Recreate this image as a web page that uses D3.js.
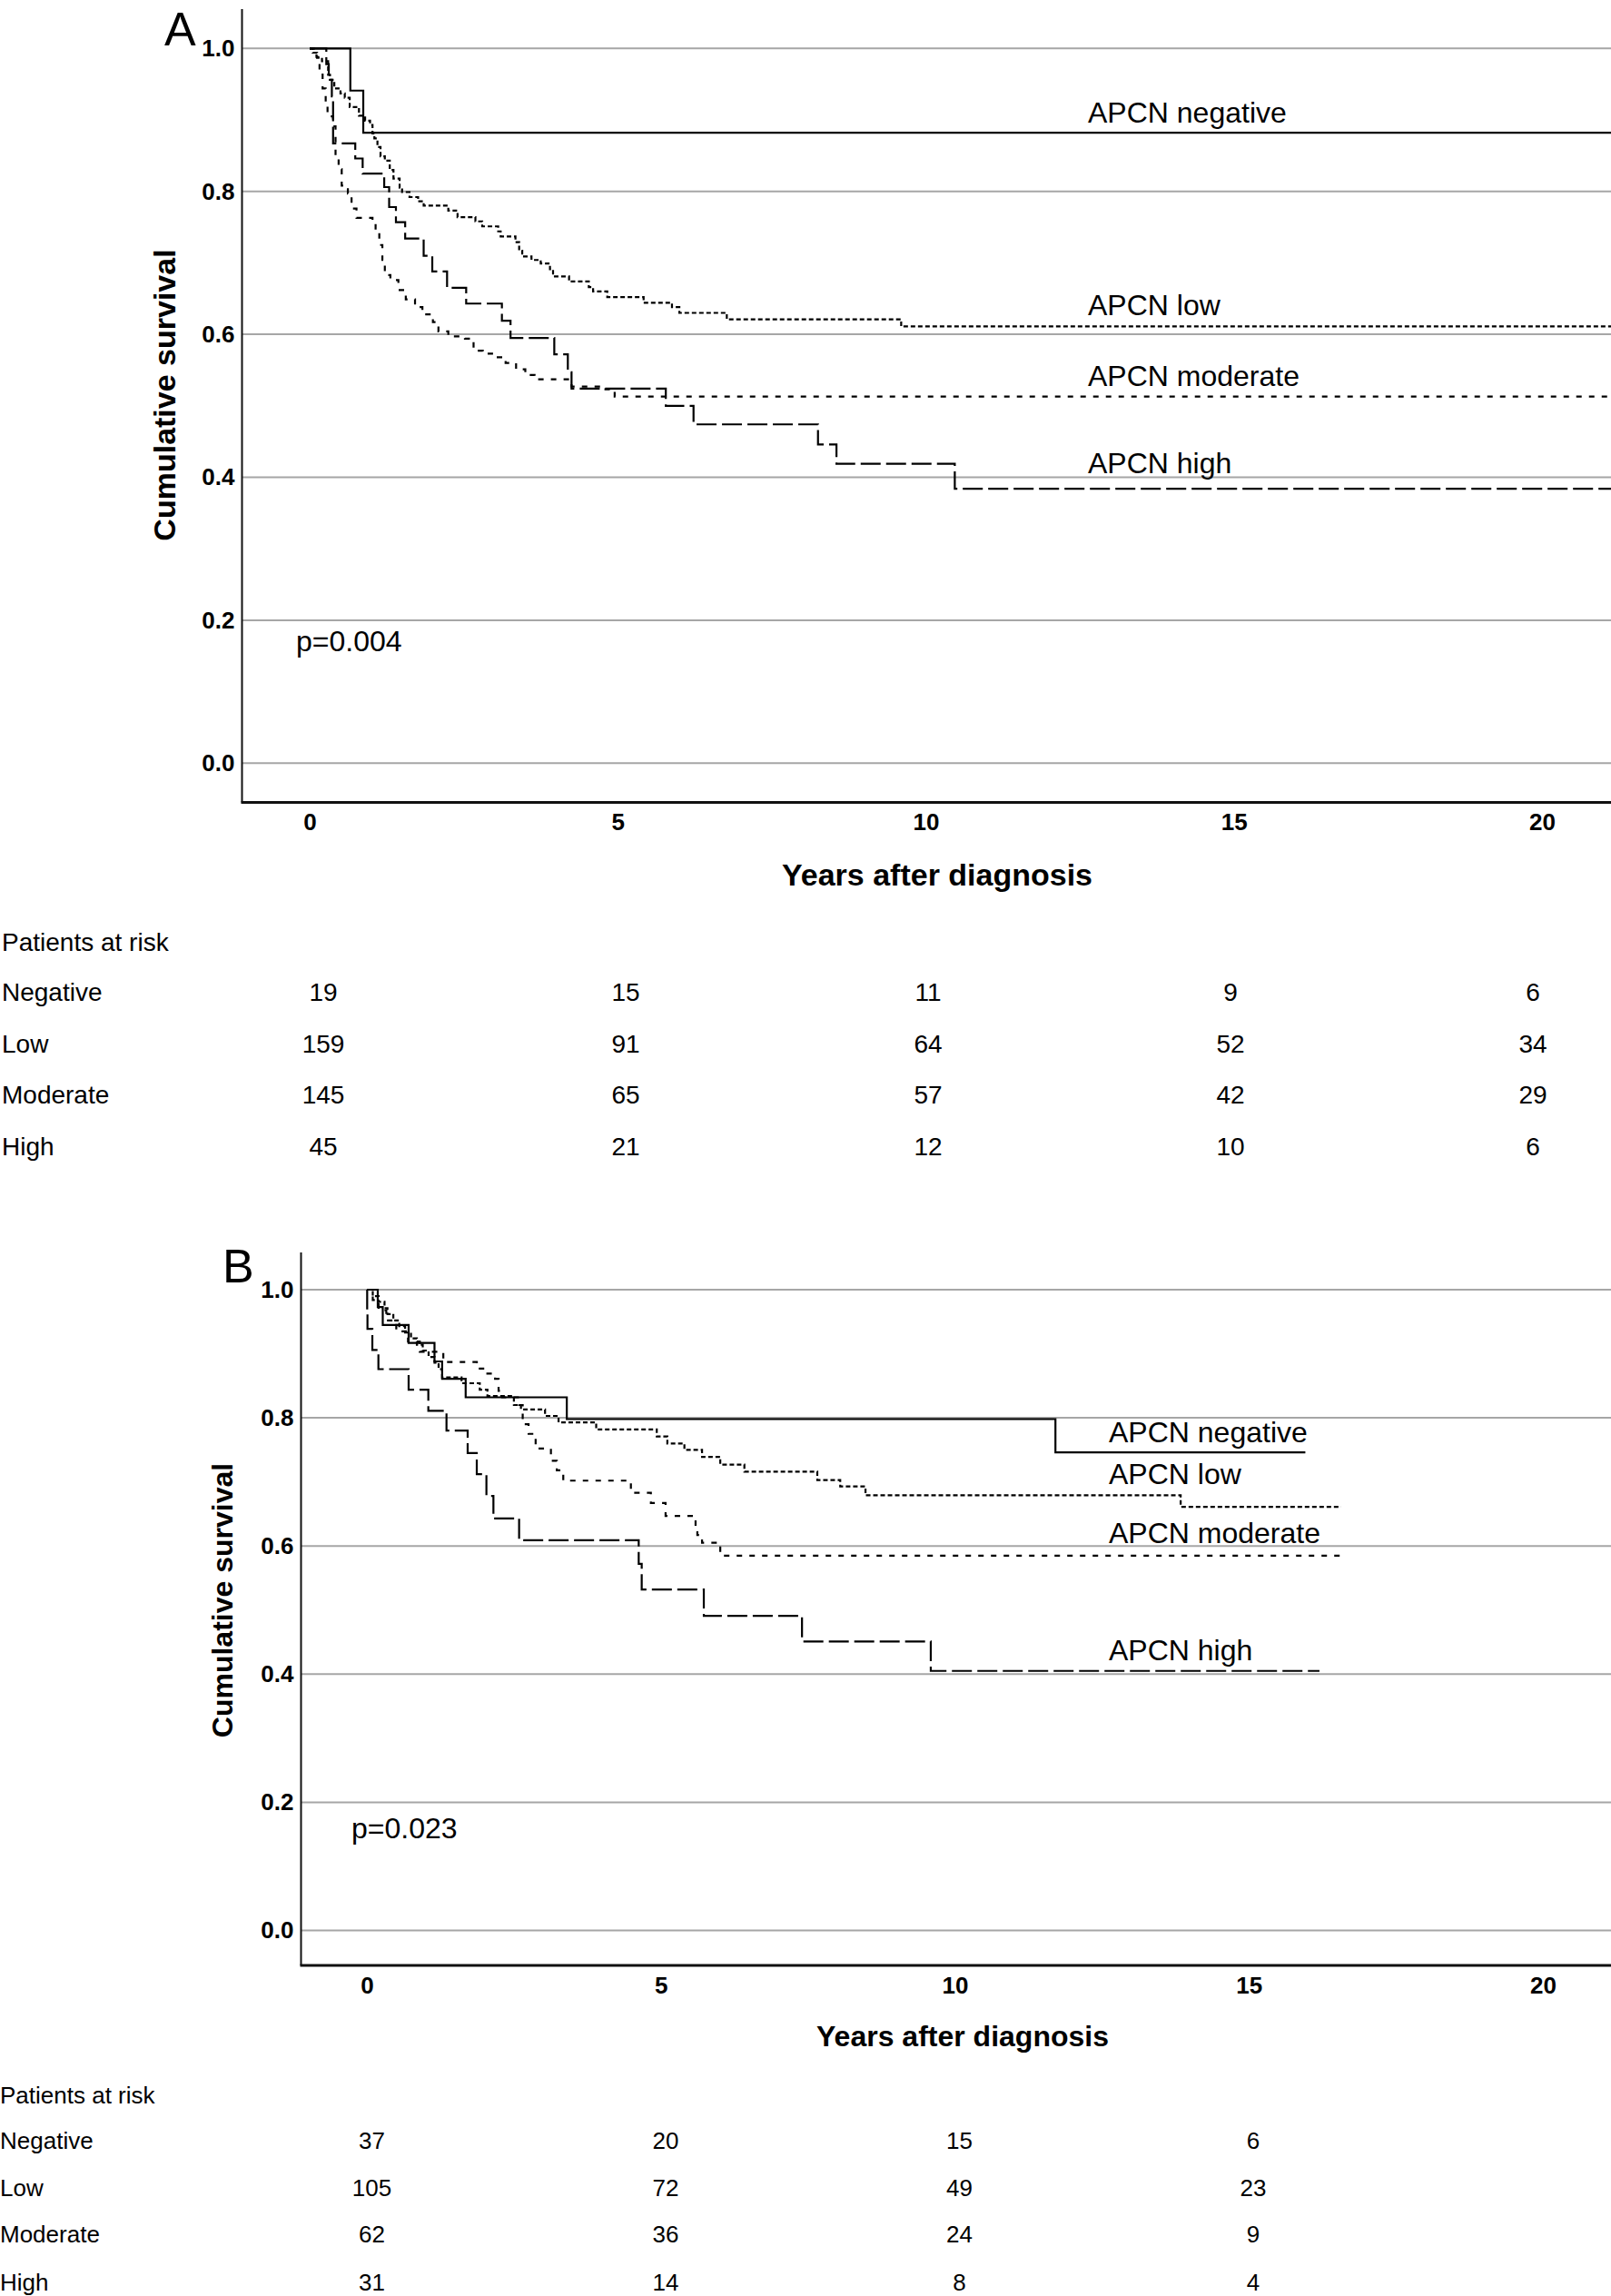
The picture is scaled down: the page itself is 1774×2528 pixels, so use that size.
<!DOCTYPE html>
<html><head><meta charset="utf-8">
<script src="https://cdn.jsdelivr.net/npm/d3@7"></script>
<style>
body{margin:0;background:#fff}
svg{display:block}
text{font-family:"Liberation Sans",Arial,Helvetica,sans-serif;fill:#000}
</style>
</head><body>
<svg id="chart" width="1774" height="2528"></svg>
<script>
// ---------- shared labels / ticks ----------
const yearTicks = [0, 5, 10, 15, 20];
const survTicks = [0, 0.2, 0.4, 0.6, 0.8, 1.0];
const seriesNames = ["APCN negative", "APCN low", "APCN moderate", "APCN high"];
const riskRowLabels = ["Negative", "Low", "Moderate", "High"];
const riskTitle = "Patients at risk";
const xTitle = "Years after diagnosis";
const yTitle = "Cumulative survival";

// ---------- Panel A (Kaplan-Meier steps: [years, survival]) ----------
const aNegative = [[0,1],[0.66,0.941],[0.87,0.882]];
const aLow = [[0,1],[0.05,0.994],[0.12,0.987],[0.2,0.982],[0.3,0.963],[0.33,0.956],[0.4,0.944],[0.5,0.937],[0.57,0.931],[0.65,0.918],[0.8,0.906],[0.9,0.899],[0.98,0.893],[1.02,0.881],[1.05,0.874],[1.1,0.862],[1.15,0.849],[1.22,0.843],[1.3,0.830],[1.36,0.818],[1.46,0.805],[1.5,0.799],[1.62,0.792],[1.76,0.786],[1.85,0.780],[2.25,0.773],[2.4,0.764],[2.69,0.758],[2.8,0.751],[3.06,0.744],[3.1,0.737],[3.34,0.729],[3.4,0.717],[3.45,0.709],[3.6,0.704],[3.75,0.699],[3.9,0.691],[3.95,0.681],[4.21,0.674],[4.53,0.666],[4.6,0.660],[4.83,0.652],[5.42,0.644],[5.88,0.638],[6.0,0.630],[6.77,0.621],[9.6,0.611]];
const aModerate = [[0,1],[0.11,0.988],[0.16,0.967],[0.21,0.944],[0.26,0.920],[0.29,0.905],[0.38,0.891],[0.42,0.848],[0.47,0.831],[0.52,0.808],[0.62,0.797],[0.68,0.776],[0.76,0.763],[1.02,0.755],[1.07,0.742],[1.13,0.725],[1.18,0.704],[1.22,0.683],[1.31,0.676],[1.44,0.662],[1.56,0.649],[1.71,0.638],[1.83,0.628],[2.0,0.617],[2.09,0.604],[2.25,0.597],[2.52,0.594],[2.66,0.577],[2.81,0.573],[2.96,0.568],[3.18,0.560],[3.35,0.551],[3.5,0.543],[3.65,0.537],[4.25,0.527],[4.75,0.523],[4.95,0.513]];
const aHigh = [[0,1],[0.27,0.978],[0.31,0.956],[0.36,0.933],[0.38,0.867],[0.74,0.846],[0.86,0.825],[1.21,0.806],[1.29,0.778],[1.40,0.757],[1.55,0.734],[1.85,0.710],[1.99,0.688],[2.23,0.665],[2.54,0.643],[3.12,0.619],[3.26,0.595],[3.97,0.572],[4.19,0.547],[4.25,0.524],[5.78,0.500],[6.23,0.474],[8.25,0.446],[8.55,0.419],[10.47,0.384]];
const aFollowUp = [22, 22, 22, 22];
const aRiskNegative = [19, 15, 11, 9, 6];
const aRiskLow = [159, 91, 64, 52, 34];
const aRiskModerate = [145, 65, 57, 42, 29];
const aRiskHigh = [45, 21, 12, 10, 6];
const aRiskYears = [0, 5, 10, 15, 20];
const aPValue = "p=0.004";

// ---------- Panel B ----------
const bNegative = [[0,1],[0.185,0.973],[0.27,0.945],[0.71,0.917],[1.15,0.888],[1.28,0.861],[1.68,0.832],[3.40,0.798],[11.71,0.746]];
const bLow = [[0,1],[0.1,0.99],[0.2,0.981],[0.3,0.971],[0.35,0.962],[0.45,0.952],[0.55,0.943],[0.65,0.933],[0.75,0.924],[0.85,0.914],[0.95,0.905],[1.05,0.895],[1.15,0.886],[1.22,0.876],[1.28,0.863],[1.61,0.854],[1.92,0.844],[2.05,0.834],[2.5,0.820],[2.62,0.813],[3.03,0.803],[3.26,0.793],[3.9,0.782],[4.93,0.771],[5.11,0.760],[5.4,0.750],[5.7,0.739],[6.01,0.727],[6.42,0.716],[7.66,0.703],[8.05,0.693],[8.48,0.679],[13.84,0.661]];
const bModerate = [[0,1],[0.1,0.984],[0.2,0.968],[0.33,0.952],[0.5,0.935],[0.7,0.919],[0.9,0.903],[1.3,0.887],[1.87,0.877],[2.0,0.869],[2.18,0.861],[2.24,0.842],[2.3,0.832],[2.59,0.82],[2.65,0.79],[2.75,0.775],[2.87,0.752],[3.13,0.733],[3.23,0.718],[3.34,0.702],[4.49,0.683],[4.83,0.667],[5.08,0.647],[5.59,0.630],[5.62,0.617],[5.70,0.605],[6.01,0.585]];
const bHigh = [[0,1],[0.005,0.968],[0.01,0.939],[0.093,0.906],[0.196,0.876],[0.71,0.844],[1.045,0.811],[1.354,0.780],[1.714,0.745],[1.869,0.712],[2.033,0.678],[2.152,0.643],[2.589,0.609],[4.623,0.572],[4.674,0.532],[5.73,0.491],[7.40,0.451],[9.59,0.405]];
const bFollowUp = [15.96, 16.57, 16.6, 16.2];
const bRiskNegative = [37, 20, 15, 6];
const bRiskLow = [105, 72, 49, 23];
const bRiskModerate = [62, 36, 24, 9];
const bRiskHigh = [31, 14, 8, 4];
const bRiskYears = [0, 5, 10, 15];
const bPValue = "p=0.023";

// ---------- drawing ----------
const svg = d3.select("#chart");
const W = 1774;
const dashes = [null, "5,3", "6,8", "22,6"];

function drawPanel(c) {
  const g = svg.append("g");
  const x = d3.scaleLinear().domain([0, 20]).range([c.x0, c.x20]);
  const y = d3.scaleLinear().domain([0, 1]).range([c.y0, c.y1]);

  // panel letter
  g.append("text").attr("x", c.letterX).attr("y", c.letterY)
    .style("font-size", "52px").text(c.letter);

  // gridlines
  g.append("g").selectAll("line").data(survTicks).join("line")
    .attr("x1", c.axisX).attr("x2", W)
    .attr("y1", d => y(d)).attr("y2", d => y(d))
    .attr("stroke", "#a6a6a6").attr("stroke-width", 2);

  // axis lines
  g.append("line").attr("x1", c.axisX).attr("x2", c.axisX)
    .attr("y1", c.axisTop).attr("y2", c.axisBottom)
    .attr("stroke", "#111").attr("stroke-width", 2);
  g.append("line").attr("x1", c.axisX - 1).attr("x2", W)
    .attr("y1", c.axisBottom).attr("y2", c.axisBottom)
    .attr("stroke", "#111").attr("stroke-width", 3);

  // y tick labels
  const ya = g.append("g").attr("transform", `translate(${c.axisX},0)`)
    .call(d3.axisLeft(y).tickValues(survTicks).tickFormat(d3.format(".1f")).tickSize(0).tickPadding(8));
  ya.select(".domain").remove();
  ya.selectAll("text").style("font-size", "26px").style("font-weight", "bold")
    .style("font-family", '"Liberation Sans",Arial,sans-serif').attr("fill", "#000");

  // x tick labels
  const xa = g.append("g").attr("transform", `translate(0,${c.axisBottom})`)
    .call(d3.axisBottom(x).tickValues(yearTicks).tickFormat(d3.format("d")).tickSize(0).tickPadding(c.xPad));
  xa.select(".domain").remove();
  xa.selectAll("text").style("font-size", "26px").style("font-weight", "bold")
    .style("font-family", '"Liberation Sans",Arial,sans-serif').attr("fill", "#000");

  // axis titles
  g.append("text").attr("x", c.xTitleX).attr("y", c.xTitleY)
    .attr("text-anchor", "middle").style("font-size", c.titleSize + "px")
    .style("font-weight", "bold").text(xTitle);
  g.append("text").attr("transform", `translate(${c.yTitleX},${c.yTitleY}) rotate(-90)`)
    .attr("text-anchor", "middle").attr("dominant-baseline", "central")
    .style("font-size", c.titleSize + "px").style("font-weight", "bold").text(yTitle);

  // curves
  const line = d3.line().x(d => x(d[0])).y(d => y(d[1])).curve(d3.curveStepAfter);
  c.curves.forEach((pts, i) => {
    const full = pts.concat([[c.followUp[i], pts[pts.length - 1][1]]]);
    g.append("path").attr("d", line(full)).attr("fill", "none")
      .attr("stroke", "#000").attr("stroke-width", 2.2)
      .attr("stroke-dasharray", dashes[i]);
  });

  // curve labels
  seriesNames.forEach((n, i) => {
    g.append("text").attr("x", c.labelX).attr("y", c.labelY[i])
      .style("font-size", "32px").text(n);
  });

  // p value
  g.append("text").attr("x", c.pX).attr("y", c.pY).style("font-size", "32px").text(c.p);

  // risk table
  const col = d3.scaleLinear().domain(c.colDomain).range(c.colRange);
  g.append("text").attr("x", c.tableX).attr("y", c.tableY[0])
    .style("font-size", c.tableSize + "px").text(riskTitle);
  c.risk.forEach((row, r) => {
    g.append("text").attr("x", c.tableX).attr("y", c.tableY[r + 1])
      .style("font-size", c.tableSize + "px").text(riskRowLabels[r]);
    g.append("g").selectAll("text").data(row).join("text")
      .attr("x", (d, k) => col(c.riskYears[k])).attr("y", c.tableY[r + 1])
      .attr("text-anchor", "middle").style("font-size", c.tableSize + "px").text(d => d);
  });
}

drawPanel({
  letter: "A", letterX: 181, letterY: 50,
  x0: 341, x20: 1698, y0: 840.3, y1: 53.3,
  axisX: 266.5, axisTop: 10, axisBottom: 883.5, xPad: 12,
  xTitleX: 1032, xTitleY: 975, yTitleX: 181, yTitleY: 435, titleSize: 34,
  curves: [aNegative, aLow, aModerate, aHigh], followUp: aFollowUp,
  labelX: 1198, labelY: [134.5, 347, 425, 521],
  pX: 326, pY: 717, p: aPValue,
  colDomain: [0, 20], colRange: [356, 1688],
  risk: [aRiskNegative, aRiskLow, aRiskModerate, aRiskHigh], riskYears: aRiskYears,
  tableX: 2, tableY: [1047, 1102, 1159, 1215, 1272], tableSize: 28
});

drawPanel({
  letter: "B", letterX: 245, letterY: 1412,
  x0: 404, x20: 1699, y0: 2125.5, y1: 1420,
  axisX: 331.5, axisTop: 1379, axisBottom: 2164, xPad: 13,
  xTitleX: 1060, xTitleY: 2253, yTitleX: 245, yTitleY: 1762, titleSize: 32,
  curves: [bNegative, bLow, bModerate, bHigh], followUp: bFollowUp,
  labelX: 1221, labelY: [1588, 1634, 1699, 1828],
  pX: 387, pY: 2024, p: bPValue,
  colDomain: [0, 15], colRange: [409.5, 1380],
  risk: [bRiskNegative, bRiskLow, bRiskModerate, bRiskHigh], riskYears: bRiskYears,
  tableX: 0, tableY: [2316, 2366, 2418, 2469, 2522], tableSize: 26
});
</script>
</body></html>
